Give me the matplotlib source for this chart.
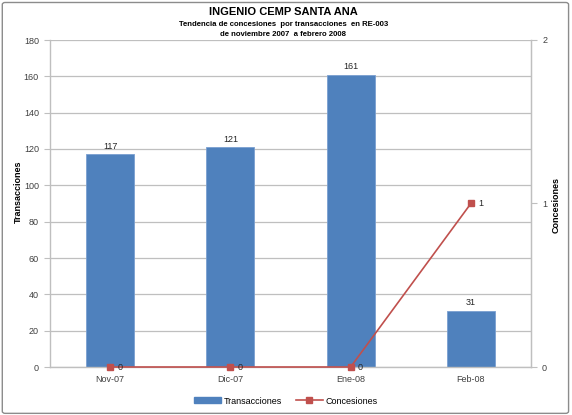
import matplotlib
matplotlib.use("Agg")
import matplotlib.pyplot as plt
from matplotlib.patches import FancyBboxPatch
from matplotlib.lines import Line2D
from matplotlib.patches import Patch

categories = ["Nov-07", "Dic-07", "Ene-08", "Feb-08"]
transacciones = [117, 121, 161, 31]
concesiones = [0, 0, 0, 1]

plt.rcParams['font.family'] = ['Liberation Sans', 'DejaVu Sans']

fig = plt.figure(figsize=(5.72, 4.15), dpi=100)
fig.patches.append(FancyBboxPatch((0.004, 0.004), 0.99, 0.99, boxstyle="round,pad=0,rounding_size=0.005",
                                  transform=fig.transFigure, fill=False, edgecolor="#8c8c8c", linewidth=1.0))

ax = fig.add_axes([50/572, 1-367/415, (531-50)/572, (367-40)/415])
x = list(range(len(categories)))
ax.bar(x, transacciones, width=0.4, color="#4F81BD", edgecolor="#7a9fd0", linewidth=0.6, zorder=2)
ax.set_xlim(-0.5, 3.5)
ax.set_ylim(0, 180)
ax.set_yticks(range(0, 181, 20))
ax.grid(axis='y', color="#bfbfbf", linewidth=0.9, zorder=0)
ax.set_axisbelow(True)
ax.spines['top'].set_visible(False)
for s in ['left', 'bottom', 'right']:
    ax.spines[s].set_color("#bfbfbf")
    ax.spines[s].set_linewidth(1.0)
ax.set_xticks(x)
ax.set_xticklabels(categories)
ax.tick_params(axis='x', length=0, labelsize=6.5, colors="#404040", pad=6)
ax.tick_params(axis='y', length=4, color="#bfbfbf", labelsize=6.5, labelcolor="#404040", pad=4)
for xi, v in zip(x, transacciones):
    ax.text(xi, v + 2, str(v), ha='center', va='bottom', fontsize=6.5, color="#262626")

ax2 = ax.twinx()
ax2.set_ylim(0, 2)
ax2.set_yticks([0, 1, 2])
ax2.plot(x, concesiones, color="#C0504D", linewidth=1.2, marker='s', markersize=5,
         markerfacecolor="#C0504D", markeredgecolor="#C0504D", zorder=3, clip_on=False)
for s in ['top', 'left', 'bottom']:
    ax2.spines[s].set_visible(False)
ax2.spines['right'].set_color("#bfbfbf")
ax2.tick_params(axis='y', length=4, color="#bfbfbf", labelsize=6.5, labelcolor="#404040", pad=4)
for xi, v in zip(x, concesiones):
    ax2.text(xi + 0.06, v, str(v), ha='left', va='center', fontsize=6.5, color="#262626")

fig.text(18/572, 1-192/415, "Transacciones", rotation=90, ha='center', va='center', fontsize=6.5, fontweight='bold')
fig.text(556/572, 1-205/415, "Concesiones", rotation=90, ha='center', va='center', fontsize=6.5, fontweight='bold')

fig.text(0.5 - 0.005, 1-12/415, "INGENIO CEMP SANTA ANA", ha='center', va='center', fontsize=8, fontweight='bold')
fig.text(0.5 - 0.005, 1-25/415, "Tendencia de concesiones  por transacciones  en RE-003", ha='center', va='center',
         fontsize=5.6, fontweight='bold')
fig.text(0.5 - 0.005, 1-35/415, "de noviembre 2007  a febrero 2008", ha='center', va='center',
         fontsize=5.6, fontweight='bold')

handles = [Patch(facecolor="#4F81BD", edgecolor="#4F81BD"),
           Line2D([0], [0], color="#C0504D", marker='s', markersize=5, linewidth=1.2)]
fig.legend(handles, ["Transacciones", "Concesiones"], loc='center', bbox_to_anchor=(0.5, 1-401/415),
           ncol=2, frameon=False, fontsize=6.5, handlelength=3, handleheight=0.6, columnspacing=1.5,
           handletextpad=0.3)

fig.savefig("out.png", dpi=100)
